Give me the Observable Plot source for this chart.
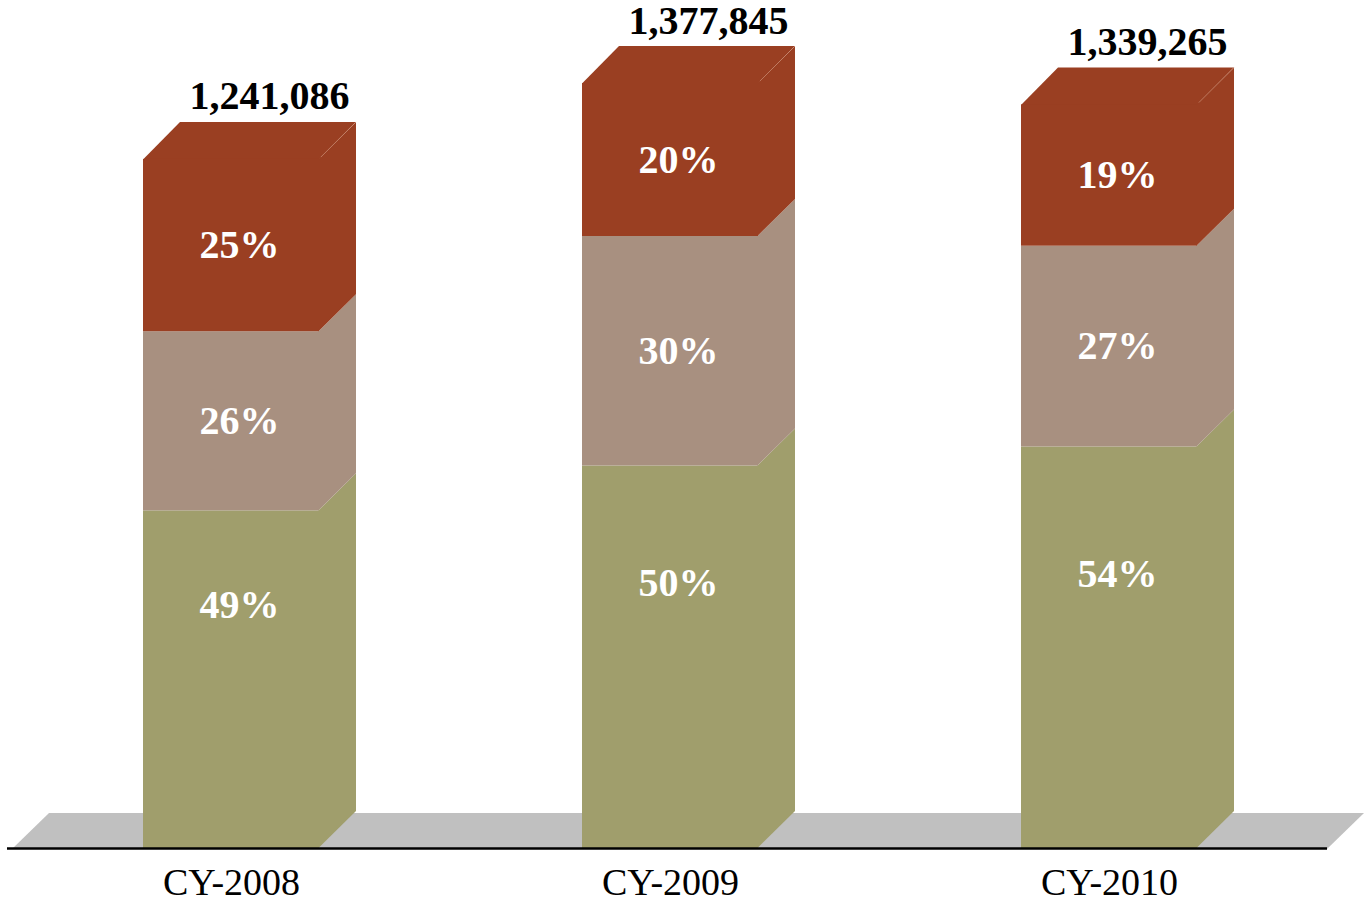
<!DOCTYPE html>
<html><head><meta charset="utf-8">
<script src="https://cdn.jsdelivr.net/npm/d3@7"></script>
<script src="https://cdn.jsdelivr.net/npm/@observablehq/plot@0.6"></script>
<style>html,body{margin:0;padding:0;background:#fff;overflow:hidden}</style>
</head><body><div id="chart"></div>
<script>
const years = ["CY-2008", "CY-2009", "CY-2010"];
const totals = [1241086, 1377845, 1339265];
const series = ["Bottom", "Middle", "Top"];
const bottomPct = [49, 50, 54];
const middlePct = [26, 30, 27];
const topPct = [25, 20, 19];
const colors = ["#A09E6C", "#A89080", "#9A3F22"];

const pcts = [bottomPct, middlePct, topPct];
const rows = [];
years.forEach((year, i) => {
  let acc = 0;
  series.forEach((s, j) => {
    const v = totals[i] * pcts[j][i] / 100;
    rows.push({year, series: s, pct: pcts[j][i], y1: acc, y2: acc + v, level: j});
    acc += v;
  });
});
const totalRows = years.map((year, i) => ({year, total: totals[i]}));

const W = 1367, H = 902, D = 37;
const serif = "'Liberation Serif','Times New Roman',Times,serif";

const plot = Plot.plot({
  width: W, height: H,
  marginLeft: 10, marginRight: 38, marginTop: 83, marginBottom: 54,
  style: {background: "#fff", fontFamily: serif, overflow: "visible"},
  x: {domain: years, paddingInner: 0.6, paddingOuter: 0.3},
  y: {domain: [0, d3.max(totals)], axis: null},
  color: {domain: series, range: colors},
  marks: [
    Plot.barY(rows, {x: "year", y1: "y1", y2: "y2", fill: "series"}),
    Plot.ruleY([0], {stroke: "#000", strokeWidth: 2.5, insetLeft: -3, insetRight: 2}),
    Plot.axisX({tickSize: 0, tickPadding: 20, fontSize: 38, fontFamily: serif, fill: "#000", label: null}),
    Plot.text(rows.filter(d => d.level > 0), {
      x: "year", y: d => (d.y1 + d.y2) / 2, text: d => d.pct + "%",
      dx: 8, dy: 0, fill: "#fff", fontSize: 40, fontWeight: "bold", fontFamily: serif
    }),
    Plot.text(rows.filter(d => d.level === 0), {
      x: "year", y: d => (d.y1 + d.y2) / 2, text: d => d.pct + "%",
      dx: 8, dy: -74, fill: "#fff", fontSize: 40, fontWeight: "bold", fontFamily: serif
    }),
    Plot.text(totalRows, {
      x: "year", y: "total", text: d => d3.format(",")(d.total),
      dx: 38, dy: -50, lineAnchor: "bottom", fill: "#000",
      fontSize: 40, fontWeight: "bold", fontFamily: serif
    })
  ]
});

// 3D faces drawn through Plot's own scales
const xs = plot.scale("x"), ys = plot.scale("y");
const bw = xs.bandwidth;
const [r0, r1] = xs.range;
const y0 = ys.apply(0);
const g = d3.create("svg:g");
// floor
g.append("polygon")
  .attr("points", [[r0 + 2, y0 + 1], [r1 - 2, y0 + 1], [r1 - 2 + D, y0 - 35], [r0 + 2 + D, y0 - 35]].map(p => p.join(",")).join(" "))
  .attr("fill", "#C0C0C0");
// side faces
rows.forEach(d => {
  const xr = xs.apply(d.year) + bw;
  const yb = ys.apply(d.y1), yt = ys.apply(d.y2);
  g.append("polygon")
    .attr("points", [[xr - 0.5, yb], [xr + D, yb - D], [xr + D, yt - D], [xr - 0.5, yt]].map(p => p.join(",")).join(" "))
    .attr("fill", colors[d.level]);
});
// top faces
rows.filter(d => d.level === 2).forEach(d => {
  const xl = xs.apply(d.year), xr = xl + bw;
  const yt = ys.apply(d.y2);
  g.append("polygon")
    .attr("points", [[xl, yt + 0.5], [xl + D, yt - D], [xr + D, yt - D], [xr, yt + 0.5]].map(p => p.join(",")).join(" "))
    .attr("fill", colors[d.level]);
  g.append("line")
    .attr("x1", xr + D * 0.05).attr("y1", yt - D * 0.05)
    .attr("x2", xr + D).attr("y2", yt - D)
    .attr("stroke", "#d9a48c").attr("stroke-width", 0.8).attr("stroke-opacity", 0.7);
});
const styleEl = plot.querySelector("style");
plot.insertBefore(g.node(), styleEl ? styleEl.nextSibling : plot.firstChild);

document.getElementById("chart").appendChild(plot);
</script>
</body></html>
